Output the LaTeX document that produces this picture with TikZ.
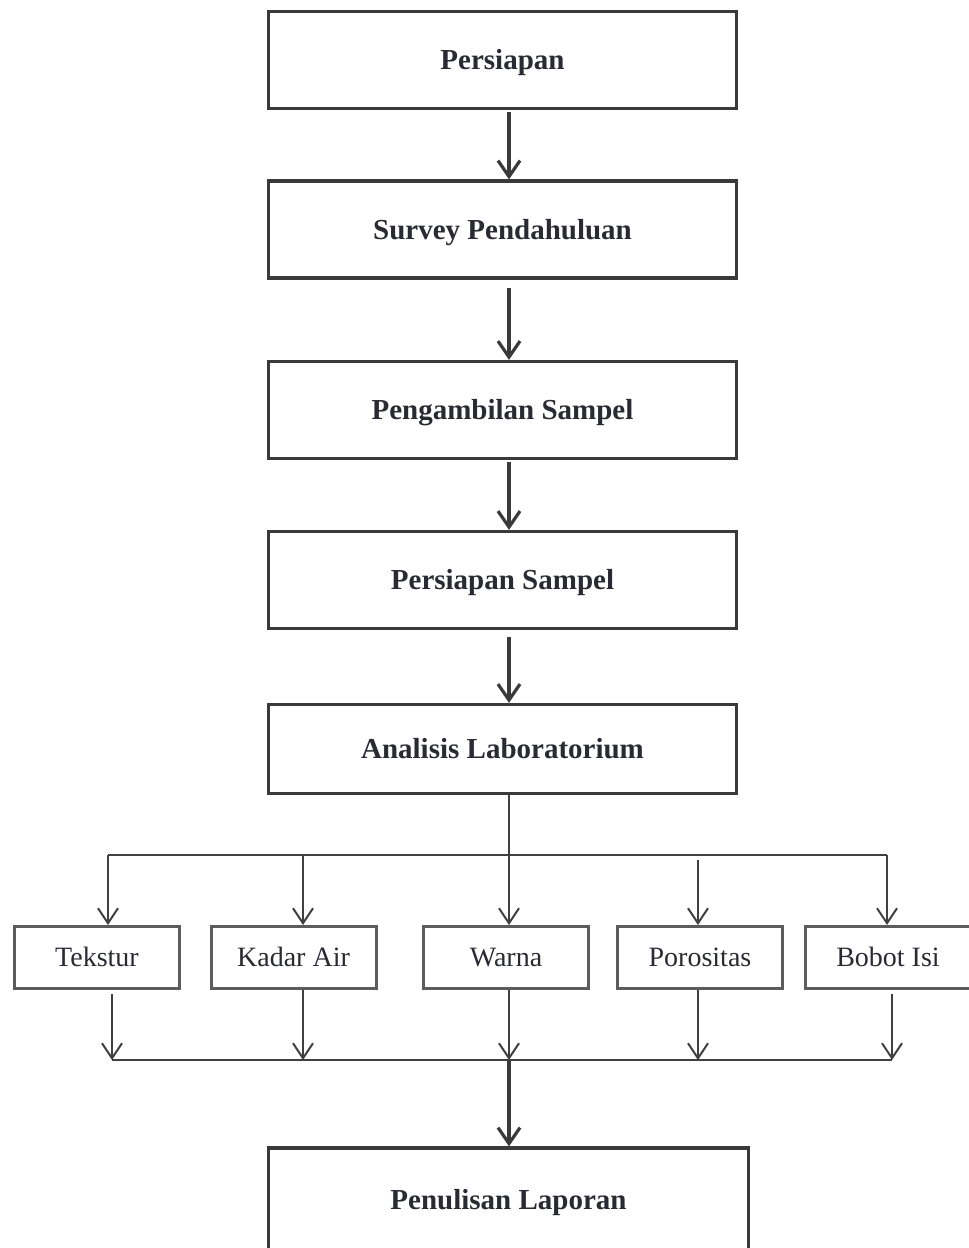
\documentclass[tikz,border=0pt]{standalone}
\usepackage{fontspec}
\setmainfont{Liberation Serif}
\usetikzlibrary{arrows.meta}
\definecolor{boxline}{HTML}{3A3A3A}
\definecolor{smallline}{HTML}{5C5C5C}
\definecolor{conn}{HTML}{404040}
\definecolor{txt}{HTML}{2A2A33}
\tikzset{
  mainbox/.style={draw=boxline, line width=3.2pt, minimum width=468pt, minimum height=97pt, inner sep=0pt,
    text height=19pt, text depth=0pt,
    text=txt, font=\fontsize{29}{34}\selectfont\bfseries},
  smallbox/.style={draw=smallline, line width=3pt, minimum width=165pt, minimum height=62pt, inner sep=0pt,
    text height=18.5pt, text depth=0pt,
    text=txt, font=\fontsize{28}{33}\selectfont},
  bigarrow/.style={draw=boxline, line width=3.2pt, -{Straight Barb[length=16pt,width=22pt,line width=3.2pt]}},
  thinline/.style={draw=conn, line width=2pt},
  thinarrow/.style={draw=conn, line width=2pt, -{Straight Barb[length=15pt,width=20pt,line width=2pt]}}
}
\begin{document}
\begin{tikzpicture}[x=1pt,y=-1pt]
\useasboundingbox (0,0) rectangle (969,1248);
\clip (0,0) rectangle (969,1248);
% main boxes
\node[mainbox] (p1) at (502.5,60) {Persiapan};
\node[mainbox] (p2) at (502.5,229.5) {Survey Pendahuluan};
\node[mainbox] (p3) at (502.5,410) {Pengambilan Sampel};
\node[mainbox] (p4) at (502.5,580) {Persiapan Sampel};
\node[mainbox, minimum height=89pt] (p5) at (502.5,749) {Analisis Laboratorium};
\node[mainbox, minimum width=480pt, minimum height=104pt] (p6) at (508.5,1200) {Penulisan Laporan};
% small boxes
\node[smallbox] (s1) at (97,957.5) {Tekstur};
\node[smallbox] (s2) at (293.5,957.5) {Kadar Air};
\node[smallbox] (s3) at (506,957.5) {Warna};
\node[smallbox] (s4) at (700,957.5) {Porositas};
\node[smallbox] (s5) at (888,957.5) {Bobot Isi};
% main arrows
\coordinate (a1) at (509,112);
\coordinate (a2) at (509,288);
\coordinate (a3) at (509,462);
\coordinate (a4) at (509,637);
\draw[bigarrow] (a1) -- (a1 |- p2.north);
\draw[bigarrow] (a2) -- (a2 |- p3.north);
\draw[bigarrow] (a3) -- (a3 |- p4.north);
\draw[bigarrow] (a4) -- (a4 |- p5.north);
% branch to analyses
\coordinate (tl) at (108,855);
\coordinate (tr) at (887,855);
\coordinate (tc) at (509,855);
\coordinate (d2) at (303,855);
\coordinate (d4) at (698,860);
\coordinate (d5) at (887,855);
\draw[thinline] (p5.south -| tc) -- (tc);
\draw[thinline] (tl) -- (tr);
\draw[thinarrow] (tl) -- (tl |- s1.north);
\draw[thinarrow] (d2) -- (d2 |- s2.north);
\draw[thinarrow] (tc) -- (tc |- s3.north);
\draw[thinarrow] (d4) -- (d4 |- s4.north);
\draw[thinarrow] (d5) -- (d5 |- s5.north);
% merge
\coordinate (bl) at (112,1060);
\coordinate (br) at (892,1060);
\coordinate (bc) at (509,1060);
\coordinate (u1) at (112,994);
\coordinate (u2) at (303,990);
\coordinate (u3) at (509,990);
\coordinate (u4) at (698,990);
\coordinate (u5) at (892,994);
\draw[thinarrow] (u1) -- (bl);
\draw[thinarrow] (u2) -- (u2 |- bl);
\draw[thinarrow] (u3) -- (bc);
\draw[thinarrow] (u4) -- (u4 |- bl);
\draw[thinarrow] (u5) -- (br);
\draw[thinline] (bl) -- (br);
\draw[bigarrow] (bc) -- (bc |- p6.north);
\end{tikzpicture}
\end{document}
